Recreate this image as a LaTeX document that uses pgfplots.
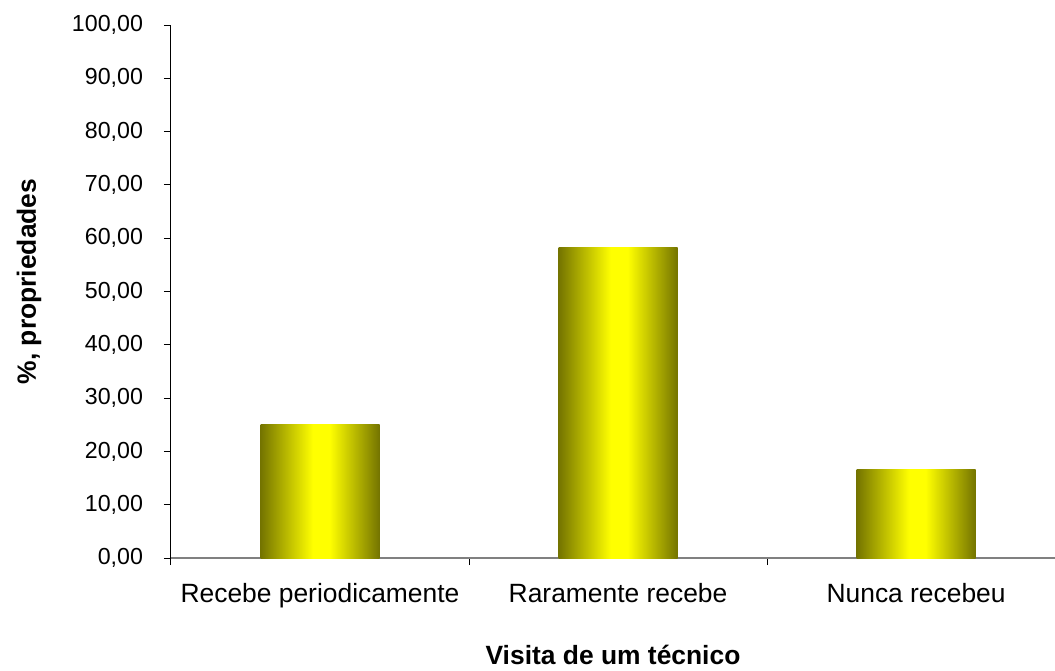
\documentclass[border=0pt]{standalone}
\usepackage{fontspec}
\setmainfont{Liberation Sans}
\usepackage{pgfplots}
\pgfplotsset{compat=1.18}
\definecolor{barolive}{RGB}{116,116,0}
\definecolor{baryellow}{RGB}{255,255,0}
\definecolor{axisgray}{RGB}{128,128,128}
% left-to-right gradient of each bar, with a wide yellow band in the middle
\pgfdeclarehorizontalshading{barshade}{100bp}{color(0bp)=(barolive); color(25bp)=(barolive);
    color(47bp)=(baryellow); color(54bp)=(baryellow); color(75bp)=(barolive); color(100bp)=(barolive)}
\pgfplotsset{
    gradbar/.style={ybar, bar width=59.5pt, bar shift=0pt, draw=none,
        shade, shading=barshade},
}
\begin{document}
\begin{tikzpicture}
\path[use as bounding box] (-85.5pt,-56pt) rectangle (442pt,279pt);
\begin{axis}[
    at={(0,0)}, anchor=south west,
    scale only axis,
    width=442pt, height=266.5pt,
    xmin=-0.5, xmax=2.466,
    ymin=0, ymax=100,
    axis x line*=bottom, axis y line*=left,
    x axis line style={draw=axisgray, line width=1pt, -},
    y axis line style={draw=black, line width=0.5pt, -},
    tick align=outside,
    major tick length=3.5pt,
    tick style={black, line width=0.5pt},
    xtick={-0.5,0.5,1.5},
    xticklabels={},
    extra x ticks={0,1,2},
    extra x tick labels={Recebe periodicamente,Raramente recebe,Nunca recebeu},
    extra x tick style={major tick length=0pt,
        tick label style={font=\fontsize{13.2}{15}\selectfont, anchor=base, yshift=-22pt}},
    ytick={0,10,...,100},
    yticklabel style={font=\fontsize{11.6}{14}\selectfont, xshift=-7pt,
        /pgf/number format/fixed,
        /pgf/number format/fixed zerofill,
        /pgf/number format/precision=2,
        /pgf/number format/use comma,
        /pgf/number format/assume math mode=true},
    xlabel={Visita de um técnico},
    ylabel={\%, propriedades},
    xlabel style={font=\bfseries\fontsize{13.2}{15}\selectfont,
        at={([yshift=-53pt]axis description cs:0.5,0)}, anchor=base},
    ylabel style={font=\bfseries\fontsize{13.2}{15}\selectfont,
        at={([xshift=-67.5pt,yshift=5pt]axis description cs:0,0.5)}, anchor=base},
]
\addplot[gradbar] coordinates {(0,25)};
\addplot[gradbar] coordinates {(1,58.33)};
\addplot[gradbar] coordinates {(2,16.67)};
\end{axis}
\end{tikzpicture}
\end{document}
